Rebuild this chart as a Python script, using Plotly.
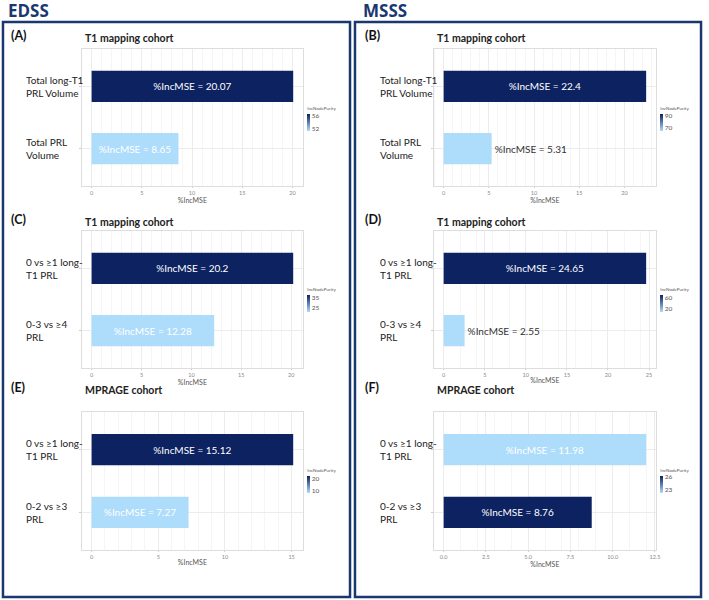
import plotly.graph_objects as go

W, H = 709, 600

# panel data, in order A..F
panel_letters = ["(A)", "(B)", "(C)", "(D)", "(E)", "(F)"]
cohort_titles = ["T1 mapping cohort", "T1 mapping cohort", "T1 mapping cohort",
                 "T1 mapping cohort", "MPRAGE cohort", "MPRAGE cohort"]

cats_a = ["Total long-T1<br>PRL Volume", "Total PRL<br>Volume"]
cats_b = ["Total long-T1<br>PRL Volume", "Total PRL<br>Volume"]
cats_c = ["0 vs ≥1 long-<br>T1 PRL", "0-3 vs ≥4<br>PRL"]
cats_d = ["0 vs ≥1 long-<br>T1 PRL", "0-3 vs ≥4<br>PRL"]
cats_e = ["0 vs ≥1 long-<br>T1 PRL", "0-2 vs ≥3<br>PRL"]
cats_f = ["0 vs ≥1 long-<br>T1 PRL", "0-2 vs ≥3<br>PRL"]

mse_a = [20.07, 8.65]
mse_b = [22.4, 5.31]
mse_c = [20.2, 12.28]
mse_d = [24.65, 2.55]
mse_e = [15.12, 7.27]
mse_f = [11.98, 8.76]

purity_a = [56.7, 51.6]
purity_b = [93.5, 66.0]
purity_c = [37.5, 22.0]
purity_d = [70.0, 12.0]
purity_e = [23.0, 8.0]
purity_f = [22.3, 26.4]

purity_ticks_a = [52, 56]
purity_ticks_b = [70, 90]
purity_ticks_c = [25, 35]
purity_ticks_d = [20, 60]
purity_ticks_e = [10, 20]
purity_ticks_f = [23, 26]

x_ticks_a = [0, 5, 10, 15, 20]
x_ticks_b = [0, 5, 10, 15, 20]
x_ticks_c = [0, 5, 10, 15, 20]
x_ticks_d = [0, 5, 10, 15, 20, 25]
x_ticks_e = [0, 5, 10, 15]
x_ticks_f = [0.0, 2.5, 5.0, 7.5, 10.0, 12.5]
x_tick_text_f = ["0.0", "2.5", "5.0", "7.5", "10.0", "12.5"]

panels = [
    (cats_a, mse_a, purity_a, purity_ticks_a, x_ticks_a, None),
    (cats_b, mse_b, purity_b, purity_ticks_b, x_ticks_b, None),
    (cats_c, mse_c, purity_c, purity_ticks_c, x_ticks_c, None),
    (cats_d, mse_d, purity_d, purity_ticks_d, x_ticks_d, None),
    (cats_e, mse_e, purity_e, purity_ticks_e, x_ticks_e, None),
    (cats_f, mse_f, purity_f, purity_ticks_f, x_ticks_f, x_tick_text_f),
]

LIGHT = "#aedcfb"
DARK = "#0d2261"
NAVY = "#1b3770"
FONT = "Lato"


def px(x):
    return x / W


def py(y):
    return 1 - y / H


# pixel geometry of the panels
col_x = [(82, 305), (436, 660)]
row_y = [(49, 186), (231, 368), (412, 550)]
cbar_y = [117, 298, 479]
label_x = [24, 380]
letter_y = [35, 219, 387]

fig = go.Figure()
annotations = []
layout = {}

for i, (cats, mse, purity, pticks, xticks, xtext) in enumerate(panels):
    col, row = i % 2, i // 2
    n = i + 1
    xa = "x" if n == 1 else "x%d" % n
    ya = "y" if n == 1 else "y%d" % n
    ca = "coloraxis" if n == 1 else "coloraxis%d" % n
    xmax = max(mse)

    fig.add_trace(go.Bar(
        x=mse, y=list(range(len(cats))), orientation="h", width=0.5,
        xaxis=xa, yaxis=ya,
        marker=dict(color=purity, coloraxis=ca, line=dict(width=0)),
        text=["%IncMSE = {}".format(v) for v in mse],
        textposition="auto", insidetextanchor="middle",
        insidetextfont=dict(color="white", size=10, family=FONT),
        outsidetextfont=dict(color="#333333", size=10, family=FONT),
        cliponaxis=False, hoverinfo="skip", showlegend=False,
    ))

    layout["xaxis" if n == 1 else "xaxis%d" % n] = dict(
        domain=[px(col_x[col][0]), px(col_x[col][1])],
        anchor=ya, range=[-0.05 * xmax, 1.05 * xmax],
        tickvals=xticks, ticktext=xtext,
        tickfont=dict(size=5.5, color="#888888", family=FONT),
        ticks="outside", ticklen=1, tickcolor="#cccccc",
        showgrid=True, gridcolor="#ececec", gridwidth=0.6,
        minor=dict(showgrid=True, gridcolor="#f5f5f5", gridwidth=0.5),
        showline=True, mirror=True, linecolor="#dddddd", linewidth=1,
        zeroline=False,
        title=dict(text="%IncMSE", font=dict(size=7, color="#555555", family=FONT),
                   standoff=1),
    )
    layout["yaxis" if n == 1 else "yaxis%d" % n] = dict(
        domain=[py(row_y[row][1]), py(row_y[row][0])],
        anchor=xa, range=[1.6, -0.6],
        tickvals=list(range(len(cats))), showticklabels=False,
        ticks="outside", ticklen=2, tickcolor="#cccccc",
        showgrid=True, gridcolor="#ececec", gridwidth=0.6,
        showline=True, mirror=True, linecolor="#dddddd", linewidth=1,
        zeroline=False,
    )
    layout[ca] = dict(
        cmin=min(purity), cmax=max(purity),
        colorscale=[[0, LIGHT], [1, DARK]],
        colorbar=dict(
            x=px(col_x[col][1] + 4), xanchor="left",
            y=py(cbar_y[row]), yanchor="middle",
            lenmode="pixels", len=27, thickness=3, outlinewidth=0,
            tickvals=pticks, ticks="", ypad=0, xpad=0,
            tickfont=dict(size=6.5, color="#555555", family=FONT),
            title=dict(text="IncNodePurity", side="top",
                       font=dict(size=4.5, color="#555555", family=FONT)),
        ),
    )

    # category labels, left aligned
    for k, c in enumerate(cats):
        annotations.append(dict(
            text=c, xref="paper", x=px(label_x[col]), xanchor="left",
            yref=ya, y=k, yanchor="middle", align="left", showarrow=False,
            font=dict(size=10, color="#222222", family=FONT),
        ))
    # panel letter and cohort title
    annotations.append(dict(
        text="<b>%s</b>" % panel_letters[i], xref="paper", yref="paper",
        x=px(label_x[col] - 15), y=py(letter_y[row]), xanchor="left",
        yanchor="middle", showarrow=False,
        font=dict(size=12.5, color="#111111", family=FONT),
    ))
    annotations.append(dict(
        text="<b>%s</b>" % cohort_titles[i], xref="paper", yref="paper",
        x=px(col_x[col][0] + 1), y=py(letter_y[row] + 3), xanchor="left",
        yanchor="middle", showarrow=False,
        font=dict(size=10.5, color="#222222", family=FONT),
    ))

for txt, x in [("EDSS", 6), ("MSSS", 363)]:
    annotations.append(dict(
        text="<b>%s</b>" % txt, xref="paper", yref="paper",
        x=px(x), y=py(10), xanchor="left", yanchor="middle", showarrow=False,
        font=dict(size=17, color=NAVY, family="Open Sans"),
    ))

shapes = []
for x0, x1 in [(3, 352), (357, 705)]:
    shapes.append(dict(
        type="rect", xref="paper", yref="paper",
        x0=px(x0), x1=px(x1), y0=py(597), y1=py(22),
        line=dict(color=NAVY, width=2.5), fillcolor="rgba(0,0,0,0)",
    ))

fig.update_layout(
    width=W, height=H, margin=dict(l=0, r=0, t=0, b=0),
    paper_bgcolor="white", plot_bgcolor="white",
    annotations=annotations, shapes=shapes,
    uniformtext=dict(minsize=10, mode="show"),
    **layout
)

# drop the browser's default page margin so the figure sits at (0, 0)
fig.write_html("out.html", config={"displayModeBar": False},
               post_script="document.body.style.margin='0';")
